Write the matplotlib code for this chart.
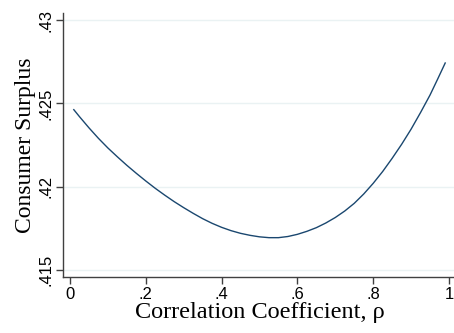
import matplotlib
matplotlib.use("Agg")
import matplotlib.pyplot as plt

rho = [0.01, 0.025, 0.05, 0.075, 0.10, 0.125, 0.15, 0.175, 0.20, 0.225, 0.25,
       0.275, 0.30, 0.325, 0.35, 0.375, 0.40, 0.425, 0.45, 0.475, 0.50,
       0.525, 0.55, 0.575, 0.60, 0.625, 0.65, 0.675, 0.70, 0.725, 0.75,
       0.775, 0.80, 0.825, 0.85, 0.875, 0.90, 0.925, 0.95, 0.97, 0.99]
surplus = [0.42462, 0.42420, 0.42353, 0.42290, 0.42232, 0.42179, 0.42128,
           0.42080, 0.42034, 0.41990, 0.41949, 0.41910, 0.41874, 0.41840,
           0.41808, 0.41780, 0.41756, 0.41736, 0.41720, 0.41708, 0.41699,
           0.41694, 0.41694, 0.41701, 0.41714, 0.41732, 0.41754, 0.41782,
           0.41815, 0.41854, 0.41900, 0.41956, 0.42020, 0.42091, 0.42170,
           0.42254, 0.42345, 0.42445, 0.42550, 0.42645, 0.42742]
xticks = [0, 0.2, 0.4, 0.6, 0.8, 1.0]
xticklabels = ["0", ".2", ".4", ".6", ".8", "1"]
yticks = [0.415, 0.42, 0.425, 0.43]
yticklabels = [".415", ".42", ".425", ".43"]

W, H = 454, 333
fig = plt.figure(figsize=(W / 100, H / 100), dpi=100)
ax = fig.add_axes([63 / W, (H - 277) / H, (456 - 63) / W, (277 - 13) / H])

ax.plot(rho, surplus, color="#1a476f", lw=1.0, zorder=3)

ax.set_xlim(-0.0185, 1.0185)
ax.set_ylim(0.41458, 0.43042)
ax.set_xticks(xticks)
ax.set_xticklabels(xticklabels, fontfamily="Liberation Sans", fontsize=12)
ax.set_yticks(yticks)
ax.set_yticklabels(yticklabels, fontfamily="Liberation Sans", fontsize=12,
                   rotation=90, va="center")
ax.grid(axis="y", color="#eaf2f3", lw=1.0, zorder=0)
ax.grid(axis="x", visible=False)
for s in ["top", "right"]:
    ax.spines[s].set_visible(False)
for s in ["left", "bottom"]:
    ax.spines[s].set_color("#404040")
    ax.spines[s].set_linewidth(1.0)
ax.tick_params(direction="out", length=5, width=1, color="#404040", pad=2)

ax.set_xlabel("Correlation Coefficient, ρ", fontfamily="Liberation Serif",
              fontsize=17.5, labelpad=0)
ax.set_ylabel("Consumer Surplus", fontfamily="Liberation Serif",
              fontsize=17, labelpad=1.5)

fig.savefig("out.png", dpi=100)
